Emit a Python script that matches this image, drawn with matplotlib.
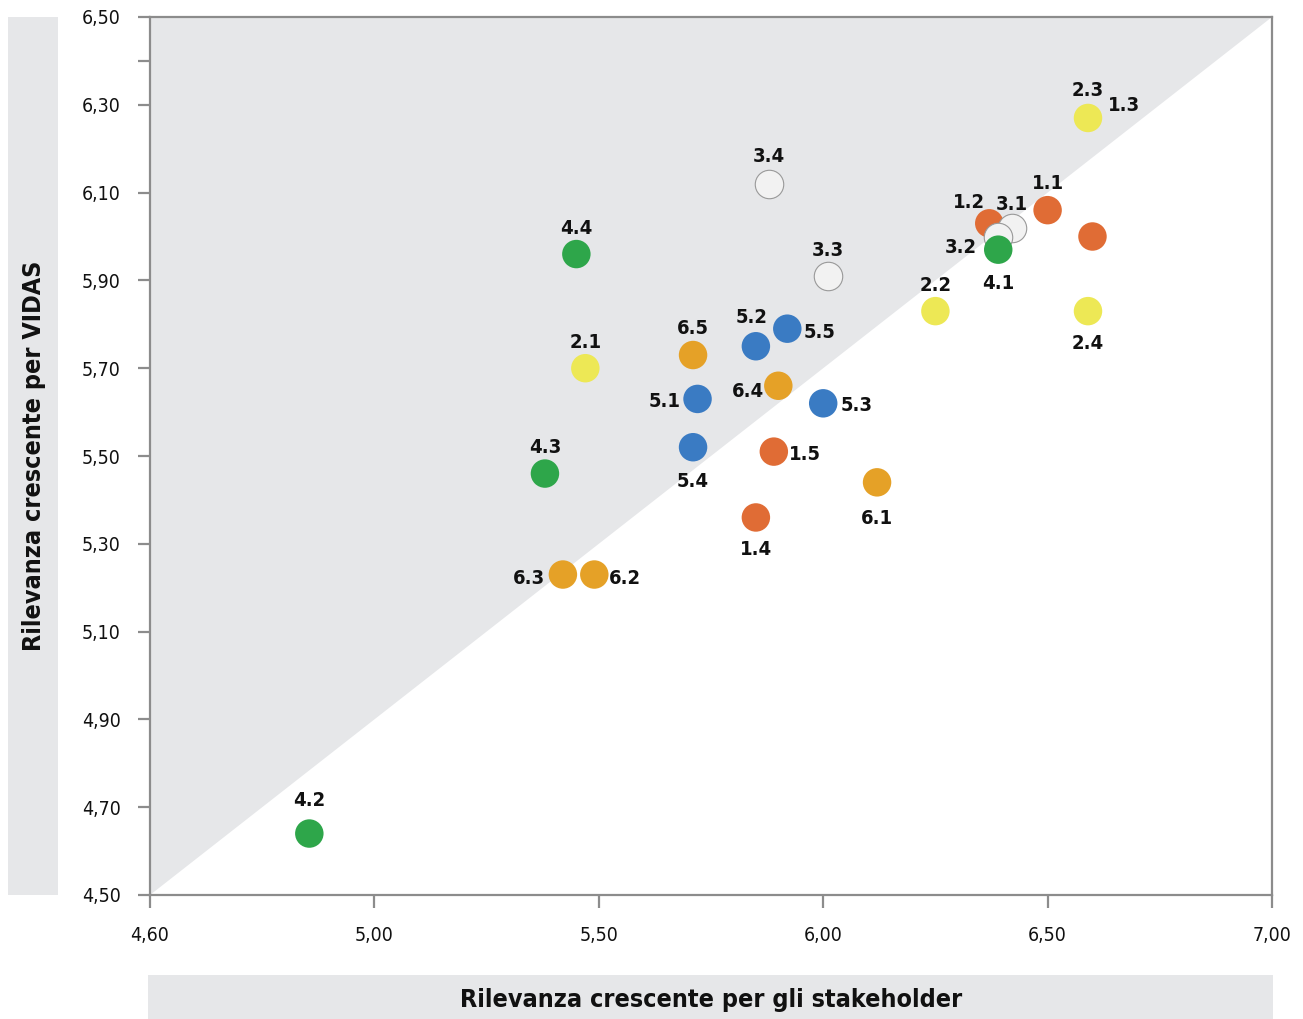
import matplotlib.pyplot as plt
from matplotlib.patches import Rectangle
from matplotlib.ticker import FixedLocator

plt.rcParams['font.family'] = ['DejaVu Sans']
plt.rcParams['font.stretch'] = 'condensed'

# data
labels = ['1.1', '1.2', '1.3', '1.4', '1.5',
          '2.1', '2.2', '2.3', '2.4',
          '3.1', '3.2', '3.3', '3.4',
          '4.1', '4.2', '4.3', '4.4',
          '5.1', '5.2', '5.3', '5.4', '5.5',
          '6.1', '6.2', '6.3', '6.4', '6.5']
stakeholder = [6.50, 6.37, 6.60, 5.85, 5.89,
               5.47, 6.25, 6.59, 6.59,
               6.42, 6.39, 6.01, 5.88,
               6.39, 4.855, 5.38, 5.45,
               5.72, 5.85, 6.00, 5.71, 5.92,
               6.12, 5.49, 5.42, 5.90, 5.71]
vidas = [6.06, 6.03, 6.00, 5.36, 5.51,
         5.70, 5.83, 6.27, 5.83,
         6.02, 6.00, 5.91, 6.12,
         5.97, 4.64, 5.46, 5.96,
         5.63, 5.75, 5.62, 5.52, 5.79,
         5.44, 5.23, 5.23, 5.66, 5.73]

xtick_vals = [4.5, 5.0, 5.5, 6.0, 6.5, 7.0]
xtick_labels = ['4,60', '5,00', '5,50', '6,00', '6,50', '7,00']
ytick_vals = [4.5, 4.7, 4.9, 5.1, 5.3, 5.5, 5.7, 5.9, 6.1, 6.3, 6.5]
ytick_labels = ['4,50', '4,70', '4,90', '5,10', '5,30', '5,50',
                '5,70', '5,90', '6,10', '6,30', '6,50']

group_colors = {'1': '#E06C35', '2': '#EDE855', '3': '#F2F2F2',
                '4': '#2EA64A', '5': '#3A7BC3', '6': '#E5A127'}

# label offsets in pixels (dx, dy; dy positive = up)
offsets = {'1.1': (0, 27), '1.2': (-20, 21), '1.3': (32, 131), '1.4': (0, -32),
           '1.5': (31, -3), '2.1': (0, 26), '2.2': (0, 26), '2.3': (0, 27),
           '2.4': (0, -32), '3.1': (0, 23), '3.2': (-37, -11), '3.3': (0, 26),
           '3.4': (0, 27), '4.1': (0, -34), '4.2': (0, 33), '4.3': (0, 26),
           '4.4': (0, 26), '5.1': (-33, -3), '5.2': (-4, 29), '5.3': (33, -2),
           '5.4': (0, -34), '5.5': (32, -4), '6.1': (0, -36), '6.2': (31, -4),
           '6.3': (-34, -4), '6.4': (-30, -6), '6.5': (0, 27)}

fig = plt.figure(figsize=(13.03, 10.19), dpi=100)
ax = fig.add_axes([150 / 1303, 1 - 895 / 1019, 1122 / 1303, 878 / 1019])

xmin, xmax = 4.5, 7.0
ymin, ymax = 4.5, 6.5
ax.set_xlim(xmin, xmax)
ax.set_ylim(ymin, ymax)

# grey triangle above the diagonal
ax.fill([xmin, xmax, xmin], [ymin, ymax, ymax], color='#E6E7E9', lw=0, zorder=0)

for lab, x, y in zip(labels, stakeholder, vidas):
    c = group_colors[lab[0]]
    if lab[0] == '3':
        ax.scatter(x, y, s=420, color=c, edgecolors='#999999', linewidths=0.8, zorder=3)
    else:
        ax.scatter(x, y, s=420, color=c, edgecolors='none', zorder=3)
    dx, dy = offsets[lab]
    ax.annotate(lab, (x, y), xytext=(dx * 0.72, dy * 0.72), textcoords='offset points',
                ha='center', va='center', fontsize=14.5, fontweight='bold',
                color='#111111', zorder=4)

for s in ax.spines.values():
    s.set_color('#8C8C8C')
    s.set_linewidth(1.6)

ax.set_xticks(xtick_vals)
ax.set_xticklabels(xtick_labels)
ax.set_yticks(ytick_vals)
ax.set_yticklabels(ytick_labels)
ax.yaxis.set_minor_locator(FixedLocator([6.4]))
ax.tick_params(axis='both', which='both', direction='out', length=9, width=1.6,
               color='#8C8C8C', labelsize=14, labelcolor='#111111')
ax.tick_params(axis='y', pad=12)
ax.tick_params(axis='x', pad=13)

# grey boxes behind the axis titles
fig.patches.append(Rectangle((8 / 1303, 1 - 895 / 1019), 50 / 1303, 878 / 1019,
                             transform=fig.transFigure, color='#E6E7E9', lw=0, zorder=0))
fig.patches.append(Rectangle((148 / 1303, 0), 1125 / 1303, 44 / 1019,
                             transform=fig.transFigure, color='#E6E7E9', lw=0, zorder=0))
fig.text(34 / 1303, 1 - 456 / 1019, 'Rilevanza crescente per VIDAS', rotation=90,
         ha='center', va='center', fontsize=18, fontweight='bold', color='#111111')
fig.text(711 / 1303, 1 - 1000 / 1019, 'Rilevanza crescente per gli stakeholder',
         ha='center', va='center', fontsize=18, fontweight='bold', color='#111111')

plt.savefig('out.png', dpi=100)
plt.close()
